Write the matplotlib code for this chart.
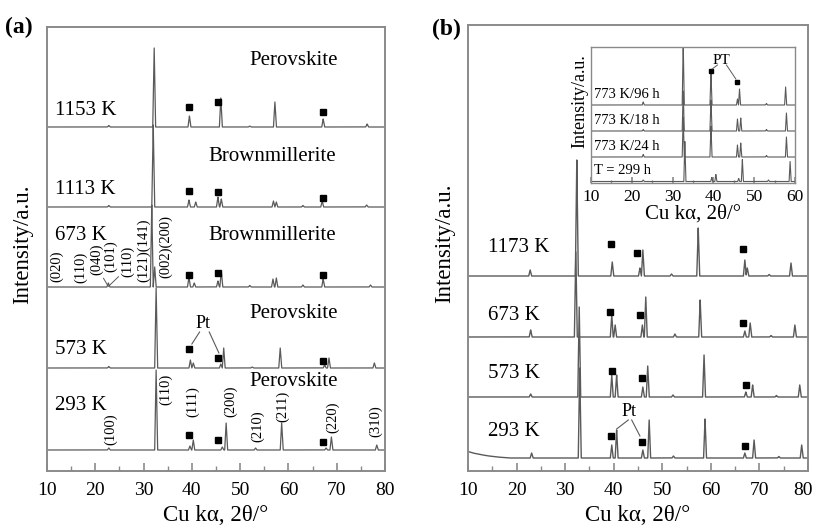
import matplotlib.pyplot as plt
from matplotlib.ticker import MultipleLocator
from matplotlib.transforms import ScaledTranslation
import numpy as np

plt.rcParams['font.family'] = ['Liberation Serif', 'DejaVu Serif']

# ---- panel (a): peak positions (2theta) and heights (a.u.) ----
a1153_pos = [22.8, 32.2, 39.5, 46.0, 52.0, 57.2, 67.2, 76.3]
a1153_int = [1.5, 79, 11, 29, 1, 25, 8, 3]
a1113_pos = [22.8, 32.0, 39.4, 40.8, 45.4, 46.1, 56.9, 57.5, 63.0, 67.0, 76.2]
a1113_int = [1.5, 82, 7, 5, 10, 8, 6, 5, 1.5, 6, 2]
a673_pos = [22.7, 31.7, 32.3, 39.4, 40.5, 45.4, 46.1, 52.0, 56.8, 57.5, 63.0, 67.2, 77.0]
a673_int = [4, 82, 20, 10, 4, 6, 16, 1.5, 8, 9, 2, 8, 2]
a573_pos = [22.8, 32.6, 39.7, 40.3, 46.0, 46.6, 52.5, 58.3, 67.5, 68.4, 77.8]
a573_int = [1.5, 80, 8, 5, 4, 20, 1, 20, 3, 10, 5]
a293_pos = [22.8, 32.6, 39.6, 40.3, 46.3, 47.1, 53.2, 58.6, 67.8, 68.9, 78.3]
a293_int = [2, 80, 4, 10, 3, 27, 2, 27, 2, 13, 5]

a_labels = ['1153 K', '1113 K', '673 K', '573 K', '293 K']
a_phases = ['Perovskite', 'Brownmillerite', 'Brownmillerite', 'Perovskite', 'Perovskite']

# Pt markers (position, height above baseline)
a_pt_pos = [39.4, 45.4, 67.2]
a1153_pt = [20, 25, 15]
a1113_pt = [16, 15, 9]
a673_pt = [12, 14.5, 12]
a573_pt = [19, 10.3, 7]
a293_pt = [15, 10, 8.3]

a673_hkl = ['(020)', '(110)', '(040)', '(101)', '(110)', '(121)(141)', '(002)(200)']
a673_hkl_x = [12.0, 16.9, 20.3, 23.1, 26.7, 30.0, 34.5]
a293_hkl = ['(100)', '(110)', '(111)', '(200)', '(210)', '(211)', '(220)', '(310)']
a293_hkl_x = [23.1, 34.5, 40.2, 48.0, 53.6, 58.7, 69.1, 78.1]

# ---- panel (b) ----
b1173_pos = [22.8, 32.4, 39.7, 45.4, 46.0, 51.9, 57.4, 67.0, 67.5, 72.0, 76.5]
b1173_int = [6, 116, 14, 8, 26, 2, 48, 16, 8, 1.5, 13]
b673_pos = [22.9, 32.2, 39.6, 40.3, 45.9, 46.6, 52.6, 57.8, 67.0, 68.1, 72.4, 77.3]
b673_int = [7, 85, 22, 12, 12, 40, 3, 37, 6, 14, 1.5, 12]
b573_pos = [22.9, 32.9, 39.6, 40.6, 46.0, 47.0, 52.2, 58.6, 67.2, 68.6, 73.5, 78.3]
b573_int = [3, 90, 22, 22, 10, 31, 2, 42, 5, 12, 1.5, 12]
b293_pos = [23.1, 33.0, 39.6, 40.6, 46.0, 47.3, 52.3, 58.8, 67.0, 68.9, 74.0, 78.7]
b293_int = [5, 90, 13, 28, 8, 38, 2, 39, 5, 18, 1.5, 13]
b293_bg_x = [10, 11, 12.5, 14, 16, 18.5]
b293_bg_y = [6.5, 5, 3.5, 2.2, 1, 0]

b_labels = ['1173 K', '673 K', '573 K', '293 K']
b1173_pt_pos = [39.4, 44.8, 66.7]
b1173_pt = [32, 23, 27]
b673_pt_pos = [39.2, 45.4, 66.7]
b673_pt = [25, 22, 14]
b573_pt_pos = [39.7, 45.9, 67.2]
b573_pt = [26, 19, 12]
b293_pt_pos = [39.4, 45.8, 67.0]
b293_pt = [22, 15.6, 12]

# ---- inset ----
i96_pos = [22.8, 32.6, 39.4, 45.9, 46.4, 53.0, 57.7]
i96_int = [3, 62, 32, 6, 16, 1.5, 18]
i18_pos = [22.8, 32.6, 39.4, 45.9, 46.7, 53.0, 57.9]
i18_int = [1.5, 40, 31, 12, 13, 1.5, 18]
i24_pos = [22.8, 32.6, 39.4, 45.9, 46.7, 53.0, 57.9]
i24_int = [2.5, 40, 31, 12, 14, 1.5, 20]
i299_pos = [22.8, 33.0, 39.6, 40.6, 46.2, 47.1, 53.5, 58.8]
i299_int = [1.5, 40, 4, 7, 3, 22, 1.5, 20]
i_labels = ['773 K/96 h', '773 K/18 h', '773 K/24 h', 'T = 299 h']
i96_pt_pos = [39.4, 45.9]
i96_pt = [34, 23]

LINE = '#5a5a5a'
FRAME = '#8a8a8a'


def trace(pos, ints, lo, hi, hw=0.3, bgx=None, bgy=None):
    xs, ys = [lo], [0.0]
    for p, h in sorted(zip(pos, ints)):
        xs += [p - hw, p, p + hw]
        ys += [0.0, h, 0.0]
    xs.append(hi)
    ys.append(0.0)
    x = np.linspace(lo, hi, 3000)
    x = np.union1d(x, xs)
    y = np.interp(x, xs, ys)
    if bgx is not None:
        y = y + np.interp(x, bgx, bgy, right=0)
    return x, y


def style(ax, big=True):
    for s in ax.spines.values():
        s.set_color(FRAME)
        s.set_linewidth(1.4 if big else 1.0)
    ax.set_yticks([])
    ax.xaxis.set_minor_locator(MultipleLocator(5))
    ax.tick_params(axis='x', which='major', direction='in', length=6 if big else 4,
                   width=1.2, color=FRAME, labelsize=14 if big else 12.5,
                   pad=8 if big else 4)
    ax.tick_params(axis='x', which='minor', direction='in', length=3.5 if big else 2.5,
                   width=1.0, color=FRAME)


fig = plt.figure(figsize=(8.16, 5.31), dpi=100)

# ================= panel (a) =================
ax = fig.add_axes([47 / 816, 60 / 531, 338 / 816, 444 / 531])
ax.set_xlim(10, 80)
ax.set_ylim(0, 444)
a_off = [344, 264, 184, 103, 21]
a_sets = [(a1153_pos, a1153_int, a1153_pt), (a1113_pos, a1113_int, a1113_pt),
          (a673_pos, a673_int, a673_pt), (a573_pos, a573_int, a573_pt),
          (a293_pos, a293_int, a293_pt)]
a_lab_dy = [17, 18, 52, 19, 45]
a_ph_dy = [67, 51, 52, 55, 68]
for (pos, ints, pt), off, lab, ph, ldy, pdy in zip(a_sets, a_off, a_labels, a_phases,
                                                    a_lab_dy, a_ph_dy):
    x, y = trace(pos, ints, 10, 80)
    ax.plot(x, y + off, color=LINE, lw=0.9)
    ax.plot(a_pt_pos, np.array(pt) + off, 's', color='black', ms=5)
    ax.text(11.7, off + ldy, lab, fontsize=15, va='center', ha='left')
    ax.text(61.1 if ph == 'Perovskite' else 56.7, off + pdy, ph, fontsize=15,
            va='center', ha='center')

a673_hkl_y = [5, 4, 12, 15, 10, 5, 9]
for t, xx, dy in zip(a673_hkl, a673_hkl_x, a673_hkl_y):
    ax.text(xx, a_off[2] + dy, t, rotation=90, fontsize=10.5, ha='center', va='bottom')
a293_hkl_y = [5, 45, 33, 33, 8, 28, 17, 13]
for t, xx, dy in zip(a293_hkl, a293_hkl_x, a293_hkl_y):
    ax.text(xx, a_off[4] + dy, t, rotation=90, fontsize=10.5, ha='center', va='bottom')
ax.plot([21.7, 22.7, 24.8], [192.7, 184.5, 194.3], color=LINE, lw=0.7)
ax.text(42.4, 148, 'Pt', fontsize=13, ha='center', va='center')
ax.plot([41.6, 40.0], [139, 127], color=LINE, lw=0.8)
ax.plot([43.6, 45.6], [139, 118], color=LINE, lw=0.8)

style(ax)
ax.set_xticks(range(10, 81, 10))
ax.set_xlabel('Cu kα, 2θ/°', fontsize=16.5, labelpad=4)
ax.set_ylabel('Intensity/a.u.', fontsize=16.5)
ax.yaxis.set_label_coords(-0.041, 0.51)
fig.text(5 / 816, 1 - 27 / 531, '(a)', fontsize=17, fontweight='bold', va='center')

# ================= panel (b) =================
bx = fig.add_axes([468 / 816, 60 / 531, 340 / 816, 446 / 531])
bx.set_xlim(10, 80)
bx.set_ylim(0, 446)
b_off = [195, 134, 74, 13]
b_sets = [(b1173_pos, b1173_int, b1173_pt_pos, b1173_pt, None, None),
          (b673_pos, b673_int, b673_pt_pos, b673_pt, None, None),
          (b573_pos, b573_int, b573_pt_pos, b573_pt, None, None),
          (b293_pos, b293_int, b293_pt_pos, b293_pt, b293_bg_x, b293_bg_y)]
b_lab_dy = [28, 22, 23, 26]
for (pos, ints, ppos, pt, bgx, bgy), off, lab, ldy in zip(b_sets, b_off, b_labels, b_lab_dy):
    x, y = trace(pos, ints, 10, 80, hw=0.3, bgx=bgx, bgy=bgy)
    bx.plot(x, y + off, color=LINE, lw=1.0)
    bx.plot(ppos, np.array(pt) + off, 's', color='black', ms=5)
    bx.text(14.1, off + ldy, lab, fontsize=15, va='center', ha='left')
bx.text(43.2, 60, 'Pt', fontsize=13, ha='center', va='center')
bx.plot([43.0, 40.6], [51, 42], color=LINE, lw=0.8)
bx.plot([43.7, 45.4], [51, 35], color=LINE, lw=0.8)

style(bx)
bx.set_xticks(range(10, 81, 10))
# keep the last tick label inside the figure, as in the reference
last = bx.xaxis.get_major_ticks()[-1].label1
last.set_transform(last.get_transform() + ScaledTranslation(-5 / 100, 0, fig.dpi_scale_trans))
bx.set_xlabel('Cu kα, 2θ/°', fontsize=16.5, labelpad=4)
bx.set_ylabel('Intensity/a.u.', fontsize=16.5)
bx.yaxis.set_label_coords(-0.038, 0.51)
fig.text(432 / 816, 1 - 29 / 531, '(b)', fontsize=17, fontweight='bold', va='center')

# ================= inset =================
ix = fig.add_axes([591 / 816, (531 - 183) / 531, 204 / 816, 136 / 531])
ix.set_xlim(10, 60)
ix.set_ylim(0, 136)
i_off = [78, 52, 26, 1.5]
i_sets = [(i96_pos, i96_int), (i18_pos, i18_int), (i24_pos, i24_int), (i299_pos, i299_int)]
for (pos, ints), off, lab in zip(i_sets, i_off, i_labels):
    x, y = trace(pos, ints, 10, 60, hw=0.25)
    ix.plot(x, y + off, color=LINE, lw=0.8)
    ix.text(10.7, off + 11, lab, fontsize=10.5, va='center', ha='left')
ix.plot(i96_pt_pos, np.array(i96_pt) + i_off[0], 's', color='black', ms=3.5)
ix.text(42, 123, 'PT', fontsize=11, ha='center', va='center')
ix.plot([41.0, 39.7], [118, 114], color=LINE, lw=0.7)
ix.plot([43.2, 45.5], [118, 104], color=LINE, lw=0.7)

style(ix, big=False)
ix.set_xticks(range(10, 61, 10))
ix.set_xlabel('Cu kα, 2θ/°', fontsize=15, labelpad=0)
ix.set_ylabel('Intensity/a.u.', fontsize=13)
ix.yaxis.set_label_coords(-0.015, 0.6)

fig.savefig('out.png', dpi=100)
